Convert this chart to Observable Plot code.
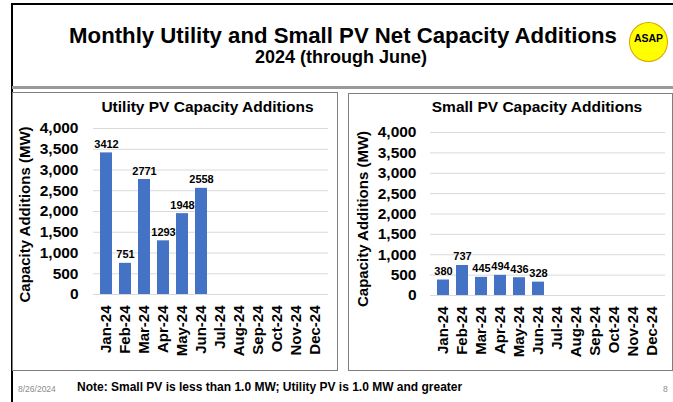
<!DOCTYPE html>
<html><head><meta charset="utf-8">
<script src="https://cdn.jsdelivr.net/npm/d3@7"></script>
<script src="https://cdn.jsdelivr.net/npm/@observablehq/plot@0.6"></script>
<style>
html,body{margin:0;padding:0;background:#fff;}
#page{position:relative;width:673px;height:402px;overflow:hidden;font-family:"Liberation Sans",Arial,sans-serif;color:#000;background:#fff;}
.abs{position:absolute;box-sizing:border-box;}
.t{position:absolute;line-height:1;white-space:nowrap;font-weight:bold;transform:translateX(-50%);}
.l{position:absolute;line-height:1;white-space:nowrap;}
</style></head><body>
<div id="page">
  <div class="abs" style="left:11px;top:3px;width:680px;height:420px;border-left:2px solid #000;border-top:2px solid #000;"></div>
  <div class="abs" style="left:12px;top:86px;width:670px;height:3px;background:#9a9a9a;"></div>
  <div class="t" style="left:343px;top:24.5px;font-size:22.2px;">Monthly Utility and Small PV Net Capacity Additions</div>
  <div class="t" style="left:341px;top:47.8px;font-size:18px;">2024 (through June)</div>
  <div class="abs" style="left:629px;top:22px;width:39px;height:40px;border-radius:50%;background:#ffff00;border:1.5px solid #d9a400;"></div>
  <div class="t" style="left:648.5px;top:32.5px;font-size:10.5px;">ASAP</div>

  <div class="abs" style="left:12px;top:92px;width:326px;height:279px;border:1px solid #7f7f7f;"></div>
  <div class="abs" style="left:348px;top:93px;width:325px;height:278px;border:1px solid #7f7f7f;"></div>

  <div class="t" id="title1" style="left:207.5px;top:99px;font-size:15.5px;"></div>
  <div class="t" id="title2" style="left:537px;top:99.3px;font-size:15.5px;"></div>

  <div class="abs" id="chart1" style="left:13px;top:115px;"></div>
  <div class="abs" id="chart2" style="left:348px;top:115px;"></div>

  <div class="l" style="left:18px;top:385px;font-size:8.5px;color:#8c8c8c;">8/26/2024</div>
  <div class="l" style="left:77px;top:380.8px;font-size:12px;font-weight:bold;">Note: Small PV is less than 1.0 MW; Utility PV is 1.0 MW and greater</div>
  <div class="l" style="left:663px;top:385px;font-size:8.5px;color:#8c8c8c;">8</div>
</div>
<script>
const months = ["Jan-24","Feb-24","Mar-24","Apr-24","May-24","Jun-24","Jul-24","Aug-24","Sep-24","Oct-24","Nov-24","Dec-24"];
const reportedMonths = ["Jan-24","Feb-24","Mar-24","Apr-24","May-24","Jun-24"];
const utilityValues = [3412, 751, 2771, 1293, 1948, 2558];
const smallValues = [380, 737, 445, 494, 436, 328];
const yTicks = [0, 500, 1000, 1500, 2000, 2500, 3000, 3500, 4000];
const chartTitles = ["Utility PV Capacity Additions", "Small PV Capacity Additions"];
const yLabel = "Capacity Additions (MW)";

document.getElementById("title1").textContent = chartTitles[0];
document.getElementById("title2").textContent = chartTitles[1];

function makeChart(values, cfg) {
  const data = reportedMonths.map((m, i) => ({month: m, value: values[i]}));
  return Plot.plot({
    width: 324,
    height: 250,
    marginLeft: cfg.marginLeft,
    marginRight: cfg.marginRight,
    marginTop: cfg.marginTop,
    marginBottom: cfg.marginBottom,
    style: {fontFamily: "'Liberation Sans', Arial, sans-serif", fontWeight: "bold", fontSize: "15px", background: "transparent", overflow: "visible", color: "#000"},
    x: {domain: months, paddingInner: 0.35, paddingOuter: 0.15, label: null},
    y: {domain: [0, 4000], label: null},
    marks: [
      Plot.gridY(yTicks, {stroke: "#d9d9d9", strokeOpacity: 1}),
      Plot.barY(data, {x: "month", y: "value", fill: "#4472C4"}),
      Plot.text(data, {x: "month", y: "value", text: d => String(d.value), lineAnchor: "bottom", dy: -5, fontSize: 11}),
      Plot.axisY({ticks: yTicks, tickFormat: d3.format(","), tickSize: 0, tickPadding: cfg.tickPadding, fontSize: 15.5, label: null}),
      Plot.axisX({tickRotate: -90, tickSize: 0, tickPadding: 11, fontSize: 15, label: null}),
      Plot.text([yLabel], {frameAnchor: "left", textAnchor: "middle", lineAnchor: "middle", rotate: -90, dx: cfg.labelDx, dy: cfg.labelDy, fontSize: 15})
    ]
  });
}

document.getElementById("chart1").append(makeChart(utilityValues, {marginLeft: 80, marginRight: 9, marginTop: 13, marginBottom: 71, tickPadding: 15, labelDx: -68, labelDy: 3}));
document.getElementById("chart2").append(makeChart(smallValues, {marginLeft: 82, marginRight: 7, marginTop: 17, marginBottom: 70, tickPadding: 14, labelDx: -67.5, labelDy: 5}));
</script>
</body></html>
